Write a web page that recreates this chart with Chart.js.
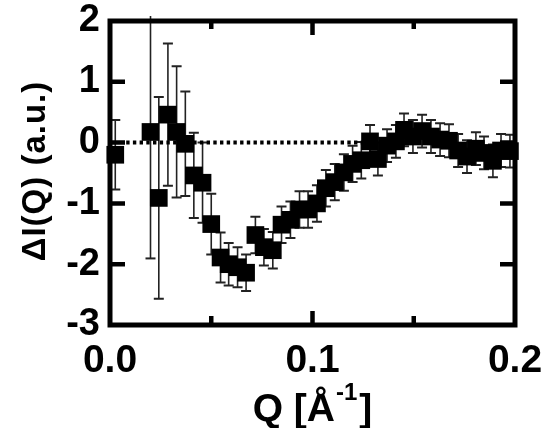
<!DOCTYPE html>
<html>
<head>
<meta charset="utf-8">
<script src="https://cdn.jsdelivr.net/npm/chart.js@4.4.0/dist/chart.umd.min.js"></script>
<style>
  html, body { margin: 0; padding: 0; background: #fff; }
</style>
</head>
<body>
<canvas id="dqChart" width="550" height="428"></canvas>
<script>
// values
const qValues = [0.0026, 0.0200, 0.0241, 0.0286, 0.0329, 0.0372, 0.0414, 0.0457, 0.0500, 0.0546,
                 0.0586, 0.0630, 0.0672, 0.0718, 0.0760, 0.0804, 0.0847, 0.0891, 0.0936, 0.0978,
                 0.1022, 0.1066, 0.1110, 0.1155, 0.1198, 0.1241, 0.1284, 0.1323, 0.1368, 0.1412,
                 0.1452, 0.1496, 0.1541, 0.1585, 0.1630, 0.1674, 0.1719, 0.1763, 0.1807, 0.1847,
                 0.1891, 0.1931, 0.1975];
const deltaI = [-0.20, 0.175, -0.91, 0.46, 0.175, -0.02, -0.54, -0.66, -1.34, -1.89,
                -2.00, -2.05, -2.14, -1.52, -1.72, -1.77, -1.35, -1.27, -1.10, -1.10,
                -1.00, -0.75, -0.65, -0.49, -0.35, -0.29, 0.02, -0.27, -0.05, 0.02,
                0.21, 0.10, 0.19, 0.10, 0.05, 0.03, -0.13, -0.23, -0.10, -0.17,
                -0.30, -0.13, -0.14];
const deltaIErr = [0.57, 2.08, 1.66, 1.17, 1.08, 0.86, 0.70, 0.66, 0.50, 0.41,
                   0.35, 0.33, 0.30, 0.30, 0.30, 0.30, 0.30, 0.30, 0.30, 0.30,
                   0.30, 0.30, 0.30, 0.30, 0.30, 0.30, 0.27, 0.27, 0.27, 0.27,
                   0.27, 0.27, 0.27, 0.27, 0.27, 0.27, 0.27, 0.27, 0.27, 0.27,
                   0.27, 0.27, 0.27];
const zeroLineQ = [0.008, 0.13];
const xTickLabels = ['0.0', '0.1', '0.2'];
const yTickLabels = ['-3', '-2', '-1', '0', '1', '2'];
const xTitle = ['Q [Å', '-1', ']'];
const yTitle = 'ΔI(Q) (a.u.)';

const FONT = '"Liberation Sans", Arial, Helvetica, sans-serif';

// error bars under the squares
const errorBars = {
    id: 'errorBars',
    beforeDatasetsDraw(chart) {
        const { ctx, chartArea, scales: { x, y } } = chart;
        ctx.save();
        ctx.strokeStyle = '#222';
        qValues.forEach((q, i) => {
            const px = x.getPixelForValue(q);
            let top = y.getPixelForValue(deltaI[i] + deltaIErr[i]);
            const bot = y.getPixelForValue(deltaI[i] - deltaIErr[i]);
            const clipped = top < chartArea.top - 5;
            if (clipped) top = chartArea.top - 5;
            ctx.lineWidth = 1.6;
            ctx.beginPath();
            ctx.moveTo(px, top);
            ctx.lineTo(px, bot);
            ctx.stroke();
            ctx.lineWidth = 2;
            ctx.beginPath();
            if (!clipped) {
                ctx.moveTo(px - 5, top);
                ctx.lineTo(px + 5, top);
            }
            ctx.moveTo(px - 5, bot);
            ctx.lineTo(px + 5, bot);
            ctx.stroke();
        });
        ctx.restore();
    }
};

// box frame with inward ticks, plus axis titles
const frame = {
    id: 'frame',
    afterDatasetsDraw(chart) {
        const { ctx, chartArea: a, scales: { x, y } } = chart;
        ctx.save();
        ctx.strokeStyle = '#000';
        ctx.lineWidth = 5;
        ctx.strokeRect(a.left, a.top, a.right - a.left, a.bottom - a.top);

        ctx.lineWidth = 4.5;
        ctx.beginPath();
        [-2, -1, 0, 1].forEach(v => {
            const py = y.getPixelForValue(v);
            ctx.moveTo(a.left, py);
            ctx.lineTo(a.left + 15, py);
            ctx.moveTo(a.right, py);
            ctx.lineTo(a.right - 15, py);
        });
        [0.05, 0.1, 0.15].forEach(v => {
            const px = x.getPixelForValue(v);
            const major = Math.abs(v - 0.1) < 1e-9;
            ctx.moveTo(px, a.bottom);
            ctx.lineTo(px, a.bottom - (major ? 14 : 9));
            ctx.moveTo(px, a.top);
            ctx.lineTo(px, a.top + (major ? 14 : 8));
        });
        ctx.stroke();
        ctx.restore();
    },
    afterDraw(chart) {
        const { ctx, chartArea: a } = chart;
        ctx.save();
        ctx.fillStyle = '#000';

        // x title with superscript
        const big = 'bold 39px ' + FONT;
        const sup = 'bold 24px ' + FONT;
        ctx.font = big;
        const w1 = ctx.measureText(xTitle[0]).width;
        const w3 = ctx.measureText(xTitle[2]).width;
        ctx.font = sup;
        const w2 = ctx.measureText(xTitle[1]).width;
        const sx = (a.left + a.right) / 2 - (w1 + w2 + w3 + 3) / 2;
        ctx.textBaseline = 'alphabetic';
        ctx.textAlign = 'left';
        ctx.font = big;
        ctx.fillText(xTitle[0], sx, 421);
        ctx.font = sup;
        ctx.fillText(xTitle[1], sx + w1 + 1, 400);
        ctx.font = big;
        ctx.fillText(xTitle[2], sx + w1 + w2 + 3, 421);

        // y title
        ctx.translate(36, (a.top + a.bottom) / 2 - 2);
        ctx.rotate(-Math.PI / 2);
        ctx.font = 'bold 33px ' + FONT;
        ctx.letterSpacing = '1px';
        ctx.textAlign = 'center';
        ctx.textBaseline = 'middle';
        ctx.fillText(yTitle, 0, 0);
        ctx.restore();
    }
};

const dqCanvas = document.getElementById('dqChart');
const dqChart = new Chart(dqCanvas, {
    type: 'scatter',
    data: {
        datasets: [{
            label: 'dI',
            data: qValues.map((q, i) => ({ x: q, y: deltaI[i] })),
            pointStyle: 'rect',
            pointRadius: 12.5,
            pointHoverRadius: 12.5,
            backgroundColor: '#000',
            borderWidth: 0,
            clip: false,
            order: 1
        }, {
            type: 'line',
            label: 'zero',
            data: zeroLineQ.map(q => ({ x: q, y: 0 })),
            borderColor: '#000',
            borderWidth: 4,
            borderDash: [3.4, 3.3],
            pointRadius: 0,
            fill: false,
            order: 2
        }]
    },
    options: {
        responsive: false,
        animation: false,
        layout: { padding: { top: 21, right: 35, left: 0, bottom: 0 } },
        plugins: {
            legend: { display: false },
            tooltip: { enabled: false }
        },
        scales: {
            x: {
                type: 'linear',
                min: 0,
                max: 0.2,
                grid: { display: false, drawTicks: false },
                border: { display: false },
                afterFit(scale) {
                    scale.height = 103;
                    scale.paddingLeft = 0;
                    scale.paddingRight = 0;
                },
                ticks: {
                    stepSize: 0.05,
                    autoSkip: false,
                    maxRotation: 0,
                    padding: 13,
                    color: '#000',
                    font: { family: FONT, size: 39, weight: 'bold' },
                    callback: v => {
                        const i = Math.round(v / 0.1);
                        return Math.abs(v - i * 0.1) < 1e-9 ? xTickLabels[i] : '';
                    }
                }
            },
            y: {
                min: -3,
                max: 2,
                grid: { display: false, drawTicks: false },
                border: { display: false },
                afterFit(scale) {
                    scale.width = 110;
                    scale.paddingTop = 0;
                    scale.paddingBottom = 0;
                },
                ticks: {
                    stepSize: 1,
                    padding: 10,
                    color: '#000',
                    font: { family: FONT, size: 38, weight: 'bold' },
                    callback: v => yTickLabels[Math.round(v) + 3]
                }
            }
        }
    },
    plugins: [errorBars, frame]
});
</script>
</body>
</html>
